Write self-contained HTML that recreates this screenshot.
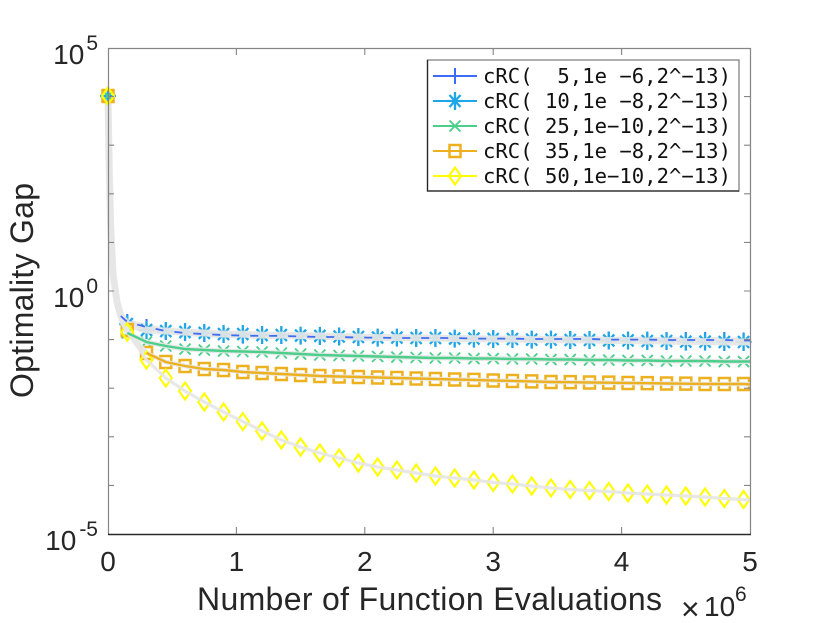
<!DOCTYPE html>
<html lang="en">
<head>
<meta charset="utf-8">
<title>Optimality Gap vs Function Evaluations</title>
<style>
html,body{margin:0;padding:0;background:#fff;}
svg{display:block;}
text{font-family:"Liberation Sans",sans-serif;fill:#262626;}
.mono{font-family:"DejaVu Sans Mono","Liberation Mono",monospace;fill:#111;white-space:pre;}
</style>
</head>
<body>
<svg id="chart" xmlns="http://www.w3.org/2000/svg" width="830" height="623" viewBox="0 0 830 623"></svg>
<script>
const evaluations = [0,0.01,0.02,0.04,0.07,0.10,0.15,0.30,0.45,0.60,0.75,0.90,1.05,1.20,1.35,1.50,1.65,1.80,1.95,2.10,2.25,2.40,2.55,2.70,2.85,3.00,3.15,3.30,3.45,3.60,3.75,3.90,4.05,4.20,4.35,4.50,4.65,4.80,4.95,5.00];
const gapBlue = [10300,309,22.8,2.13,0.594,0.306,0.230,0.182,0.150,0.137,0.130,0.124,0.121,0.119,0.119,0.116,0.113,0.113,0.110,0.110,0.108,0.108,0.108,0.108,0.105,0.105,0.105,0.103,0.103,0.103,0.103,0.100,0.100,0.100,0.098,0.098,0.098,0.098,0.096,0.096];
const gapCyan = [10300,309,22.8,2.13,0.594,0.306,0.209,0.157,0.150,0.143,0.137,0.130,0.130,0.124,0.124,0.121,0.119,0.116,0.113,0.110,0.110,0.108,0.108,0.105,0.105,0.103,0.103,0.100,0.100,0.098,0.098,0.096,0.096,0.0935,0.0935,0.091,0.091,0.0892,0.0892,0.0892];
const gapGreen = [10300,309,22.8,2.13,0.594,0.290,0.137,0.0892,0.0738,0.0640,0.0610,0.0582,0.0569,0.0556,0.0530,0.0505,0.0482,0.0471,0.0460,0.0449,0.0438,0.0428,0.0418,0.0418,0.0408,0.0408,0.0399,0.0399,0.0389,0.0389,0.0380,0.0380,0.0372,0.0372,0.0363,0.0363,0.0363,0.0354,0.0354,0.0354];
const gapOrange = [10300,309,22.8,2.13,0.594,0.280,0.157,0.0530,0.0346,0.0286,0.0248,0.0237,0.0215,0.0205,0.0196,0.0187,0.0178,0.0174,0.0170,0.0166,0.0162,0.0158,0.0155,0.0151,0.0148,0.0144,0.0141,0.0138,0.0134,0.0133,0.0131,0.0130,0.0128,0.0127,0.0125,0.0124,0.0122,0.0122,0.0122,0.0120];
const gapYellow = [10300,309,22.8,2.13,0.560,0.230,0.143,0.038,0.0162,0.00875,0.0052,0.00324,0.00206,0.00132,0.00086,0.000617,0.000464,0.000366,0.000289,0.000239,0.000207,0.00018,0.000156,0.000142,0.000129,0.000115,0.000107,0.0000972,0.0000885,0.0000824,0.0000785,0.0000749,0.0000698,0.0000665,0.0000634,0.0000605,0.0000577,0.0000537,0.0000513,0.00005];
const xTickValues = [0,1,2,3,4,5];
const xTickLabels = ["0","1","2","3","4","5"];
const yMinorExponents = [-5,-4,-3,-2,-1,0,1,2,3,4,5];
const yLabelExponents = [5,0,-5];
const legendLabels = ["cRC(  5,1e \u22126,2^\u221213)","cRC( 10,1e \u22128,2^\u221213)","cRC( 25,1e\u221210,2^\u221213)","cRC( 35,1e \u22128,2^\u221213)","cRC( 50,1e\u221210,2^\u221213)"];
const seriesValues = [gapBlue,gapCyan,gapGreen,gapOrange,gapYellow];

const NS = "http://www.w3.org/2000/svg";
const svg = document.getElementById("chart");
const L = 108, R = 750, T = 48, B = 534;
const xMax = 5, logMax = 5, logMin = -5;
function xScale(v){ return L + (v / xMax) * (R - L); }
function yScale(v){ return T + (logMax - Math.log10(v)) / (logMax - logMin) * (B - T); }
function yScaleExp(e){ return T + (logMax - e) / (logMax - logMin) * (B - T); }

const styleColors = ["#3f6cf4","#1fa6e6","#4ccf8b","#edb120","#ffff00"];
const styleBands = [6,7,5,4.5,3.2];
const styleLineTop = [true,false,true,true,false];
const styleTopStart = [5,0,6,7,0];
const styleNames = ["blue-5","cyan-10","green-25","orange-35","yellow-50"];
const styleMarkers = ["plus","star","cross","square","diamond"];
const styleMarkerWidths = [2,2.3,1.9,2.5,2.1];

function make(tag, attrs, parent){
  const e = document.createElementNS(NS, tag);
  for (const k in attrs) e.setAttribute(k, attrs[k]);
  (parent || svg).appendChild(e);
  return e;
}
function markerPath(kind, x, y){
  if (kind === "plus") return `M${x-7} ${y}H${x+7}M${x} ${y-8}V${y+8}`;
  if (kind === "star") return `M${x-8} ${y}H${x+8}M${x} ${y-9}V${y+9}M${x-5.5} ${y-6}L${x+5.5} ${y+6}M${x-5.5} ${y+6}L${x+5.5} ${y-6}`;
  if (kind === "cross") return `M${x-5.5} ${y-5.5}L${x+5.5} ${y+5.5}M${x-5.5} ${y+5.5}L${x+5.5} ${y-5.5}`;
  if (kind === "square") return `M${x-5.5} ${y-6}H${x+5.5}V${y+6}H${x-5.5}Z`;
  return `M${x} ${y-8.5}L${x+6} ${y}L${x} ${y+8.5}L${x-6} ${y}Z`;
}
function linePoints(values, start){
  const pts = [];
  values.forEach((v,i)=>{ if (i >= start) pts.push(xScale(evaluations[i]).toFixed(1)+","+yScale(v).toFixed(1)); });
  return pts.join(" ");
}

seriesValues.forEach((values, s) => {
  const group = make("g", {});
  
  
  let d = "";
  values.forEach((v,i) => {
    if (i >= 6 && i < values.length - 1) d += markerPath(styleMarkers[s], xScale(evaluations[i]), yScale(v));
  });
  const markers = make("path", {d:d, fill:"none", stroke:styleColors[s], "stroke-width":styleMarkerWidths[s]}, group);
  
  
  const band = make("polyline", {points:linePoints(values, 0), fill:"none", stroke:"#e6e6e6", "stroke-opacity":0.92, "stroke-width":styleBands[s], "stroke-linejoin":"round"}, group);
  
  
});

seriesValues.forEach((values, s) => {
  const start = make("path", {d:markerPath(styleMarkers[s], xScale(evaluations[0]), yScale(values[0])), fill:"none", stroke:styleColors[s], "stroke-width":styleMarkerWidths[s]});
  
  
  if (!styleLineTop[s]) return;
  const topLine = make("polyline", {points:linePoints(values, styleTopStart[s]), fill:"none", stroke:styleColors[s], "stroke-width":s === 0 ? 1.8 : 2.4, "stroke-dasharray":s === 0 ? "8 11" : "none"});
  
  
});

const axes = make("g", {});


make("path", {d:`M${L+.5} ${B}V${T+.5}H${R+.5}V${B}`, fill:"none", stroke:"#858585", "stroke-width":1.2}, axes);
make("line", {x1:L, y1:B+.5, x2:R+1, y2:B+.5, stroke:"#2a2a2a", "stroke-width":1.4}, axes);

xTickValues.forEach((v,i) => {
  const x = xScale(v);
  if (i > 0 && i < xTickValues.length - 1) {
    make("path", {d:`M${x} ${B}v-7M${x} ${T}v7`, stroke:"#858585", "stroke-width":1.1, fill:"none"}, axes);
  }
  const label = make("text", {x:x, y:571, "text-anchor":"middle", "font-size":28});
  
  
  label.textContent = xTickLabels[i];
});
yMinorExponents.forEach(e => {
  const y = yScaleExp(e);
  if (e > logMin && e < logMax) {
    make("path", {d:`M${L} ${y}h6M${R} ${y}h-6`, stroke:"#858585", "stroke-width":1.1, fill:"none"}, axes);
  }
});
yLabelExponents.forEach(e => {
  const y = yScaleExp(e);
  const t = make("text", {x:98, y:y + 16, "text-anchor":"end", "font-size":28});
  
  
  const base = make("tspan", {}, t);
  base.textContent = "10";
  const exp = make("tspan", {dx:e < 0 ? 3 : 2, dy:-14, "font-size":21}, t);
  exp.textContent = e < 0 ? "-" + Math.abs(e) : String(e);
});

const legend = make("g", {});


make("rect", {x:427.5, y:60, width:311.5, height:131, fill:"#fff", stroke:"#8c8c8c", "stroke-width":1.4}, legend);
make("path", {d:"M427.5 60V191H739", fill:"none", stroke:"#262626", "stroke-width":1.2}, legend);
legendLabels.forEach((txt,i) => {
  const cy = 76 + i * 25;
  const entry = make("g", {}, legend);
  
  
  make("line", {x1:433, y1:cy, x2:477, y2:cy, stroke:styleColors[i], "stroke-width":2}, entry);
  make("path", {d:markerPath(styleMarkers[i], 455, cy), fill:"none", stroke:styleColors[i], "stroke-width":styleMarkerWidths[i]}, entry);
  const t = make("text", {x:483, y:cy + 7, "font-size":20.6, "class":"mono", "xml:space":"preserve"}, entry);
  t.textContent = txt;
});
</script>
<svg style="position:absolute;left:0;top:0;pointer-events:none" width="830" height="623" viewBox="0 0 830 623" xmlns="http://www.w3.org/2000/svg">
  <text x="197" y="610" font-size="32" textLength="465" lengthAdjust="spacing">Number of Function Evaluations</text>
  <text transform="translate(33,398) rotate(-90)" x="0" y="0" font-size="32" textLength="215" lengthAdjust="spacing">Optimality Gap</text>
  <g>
    <text x="681" y="620" font-size="32">×</text>
    <text x="704" y="616" font-size="28">10</text>
    <text x="735" y="601" font-size="21">6</text>
  </g>
</svg>
</body>
</html>
